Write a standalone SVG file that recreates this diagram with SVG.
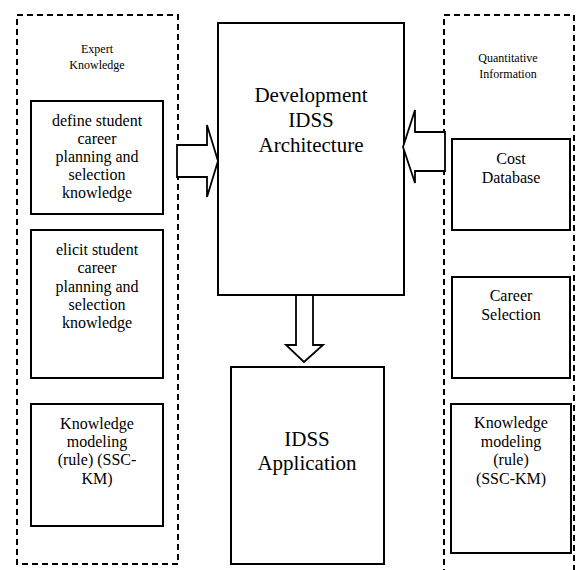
<svg xmlns="http://www.w3.org/2000/svg" width="576" height="570" viewBox="0 0 576 570">
<style>
.bg{fill:#fff}
.box{fill:#fff;stroke:#000;stroke-width:2}
.dash{fill:none;stroke:#000;stroke-width:2;stroke-dasharray:6,4}
.arr{fill:#fff;stroke:#000;stroke-width:1.8;stroke-linejoin:miter}
.lbl-small,.lbl-mid,.lbl-big{font-family:'Liberation Serif','Times New Roman',serif;fill:#000;text-anchor:middle}
.lbl-small{font-size:12px}
.lbl-mid{font-size:16px}
.lbl-big{font-size:21px}
</style>
<rect class="bg" x="0" y="0" width="576" height="570"/>
<g id="expert-group">
<rect class="dash" x="17" y="15" width="161" height="549"/>
<text class="lbl-small" x="97" y="53">Expert</text>
<text class="lbl-small" x="97" y="69">Knowledge</text>
</g>
<g id="quant-group">
<path class="dash" d="M444,575 V15 H574 V575"/>
<text class="lbl-small" x="508" y="62">Quantitative</text>
<text class="lbl-small" x="508" y="78">Information</text>
</g>
<g id="define">
<rect class="box" x="31" y="101" width="132" height="113"/>
<text class="lbl-mid" x="97" y="126">define student</text>
<text class="lbl-mid" x="97" y="144">career</text>
<text class="lbl-mid" x="97" y="162">planning and</text>
<text class="lbl-mid" x="97" y="180">selection</text>
<text class="lbl-mid" x="97" y="198">knowledge</text>
</g>
<g id="elicit">
<rect class="box" x="31" y="230" width="132" height="148"/>
<text class="lbl-mid" x="97" y="255">elicit student</text>
<text class="lbl-mid" x="97" y="273">career</text>
<text class="lbl-mid" x="97" y="292">planning and</text>
<text class="lbl-mid" x="97" y="310">selection</text>
<text class="lbl-mid" x="97" y="328">knowledge</text>
</g>
<g id="km-left">
<rect class="box" x="31" y="404" width="132" height="122"/>
<text class="lbl-mid" x="97" y="429">Knowledge</text>
<text class="lbl-mid" x="97" y="447">modeling</text>
<text class="lbl-mid" x="97" y="465">(rule) (SSC-</text>
<text class="lbl-mid" x="97" y="484">KM)</text>
</g>
<g id="architecture">
<rect class="box" x="218" y="23" width="186" height="272"/>
<text class="lbl-big" x="311" y="102">Development</text>
<text class="lbl-big" x="311" y="127">IDSS</text>
<text class="lbl-big" x="311" y="152">Architecture</text>
</g>
<g id="application">
<rect class="box" x="231" y="367" width="153" height="197"/>
<text class="lbl-big" x="307" y="446">IDSS</text>
<text class="lbl-big" x="307" y="470">Application</text>
</g>
<g id="cost">
<rect class="box" x="452" y="139" width="118" height="91"/>
<text class="lbl-mid" x="511" y="164">Cost</text>
<text class="lbl-mid" x="511" y="183">Database</text>
</g>
<g id="career">
<rect class="box" x="452" y="277" width="118" height="101"/>
<text class="lbl-mid" x="511" y="301">Career</text>
<text class="lbl-mid" x="511" y="320">Selection</text>
</g>
<g id="km-right">
<rect class="box" x="451" y="404" width="120" height="149"/>
<text class="lbl-mid" x="511" y="428">Knowledge</text>
<text class="lbl-mid" x="511" y="447">modeling</text>
<text class="lbl-mid" x="511" y="465">(rule)</text>
<text class="lbl-mid" x="511" y="484">(SSC-KM)</text>
</g>
<g id="connectors">
<path class="arr" d="M177,145 H207 V125 L218,161 L207,197 V177 H177 Z"/>
<path class="arr" d="M445,132 H415 V110 L403,147 L415,183 V171 H445 Z"/>
<path class="arr" d="M296,295 V345 H286 L304,362 L323,345 H313 V295 Z"/>
</g>
</svg>
